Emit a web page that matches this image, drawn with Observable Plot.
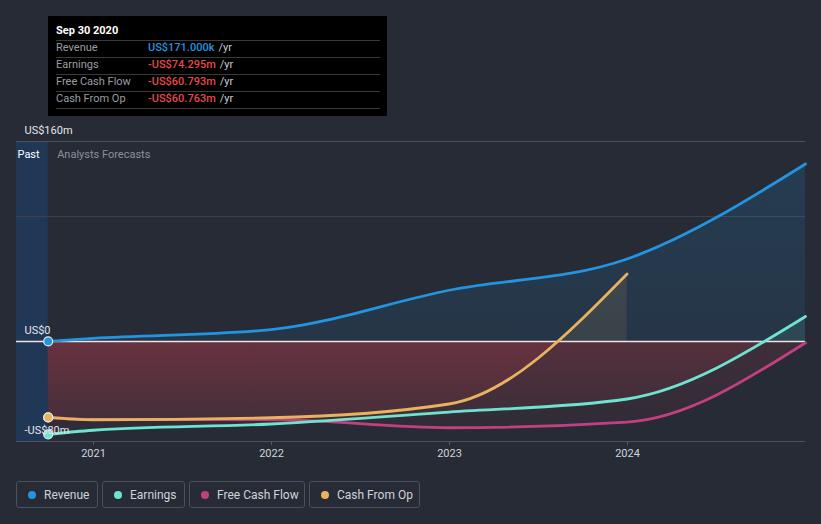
<!DOCTYPE html>
<html><head><meta charset="utf-8">
<script src="https://cdn.jsdelivr.net/npm/d3@7"></script>
<script src="https://cdn.jsdelivr.net/npm/@observablehq/plot@0.6"></script>
<style>
body{margin:0;background:#262b36;font-family:Roboto,"Noto Sans",sans-serif;}
#wrap{position:relative;width:821px;height:524px;background:#262b36;overflow:hidden;}
#chart{position:absolute;left:0;top:0;}
#tip{position:absolute;left:48px;top:16px;width:339px;height:100px;background:#000;}
#tip .inner{position:absolute;left:8px;top:0;width:324px;}
#tip .title{padding-top:6px;line-height:18px;height:18px;font-size:11px;font-weight:bold;color:#fff;border-bottom:1px solid #3a3a3a;}
#tip .row{line-height:14px;height:14px;padding-bottom:2px;font-size:11px;border-bottom:1px solid #3a3a3a;display:flex;}
#tip .lab{width:92px;color:#9a9da3;}
#tip .val{font-weight:500;}
#tip .unit{color:#c9ccd1;margin-left:4px;}
#legend{position:absolute;left:16px;top:481px;display:flex;gap:4px;}
#legend .item{box-sizing:border-box;height:27px;border:1px solid #4a505c;border-radius:3px;display:flex;align-items:center;padding-left:11px;font-size:12px;color:#cfd3da;}
#legend .dot{width:8px;height:8px;border-radius:50%;margin-right:8px;}
</style></head>
<body>
<div id="wrap">
  <div id="chart"></div>
  <div id="tip"><div class="inner"></div></div>
  <div id="legend"></div>
</div>
<script>
// ---- data ----
const seriesNames = ["Revenue", "Earnings", "Free Cash Flow", "Cash From Op"];
const seriesColors = ["#2394df", "#6ee3cf", "#c2407f", "#e9b25e"];
const dates = ["2020-09-30", "2020-12-31", "2021-12-31", "2022-12-31", "2023-12-31", "2024-12-31"];
const revenue = [0.171, 2.5, 9.5, 41, 66, 142];
const earnings = [-74.295, -71, -66, -56.5, -46, 20];
const freeCashFlow = [-60.793, -62.4, -62.5, -69, -64.5, -1];
const cashFromOp = [-60.763, -62.6, -61, -50, 54];
const tipTitle = "Sep 30 2020";
const tipValues = ["US$171.000k", "-US$74.295m", "-US$60.793m", "-US$60.763m"];
const yLabelValues = [160, 0, -80];
const yLabelTexts = ["US$160m", "US$0", "-US$80m"];
const gridValues = [160];
const minorGridValues = [100];
const yearTicks = ["2021-01-01", "2022-01-01", "2023-01-01", "2024-01-01"];
const xDomainStr = ["2020-07-27", "2024-12-31"];
const yDomain = [-80, 160];
const pastEndStr = "2020-09-30";

// ---- build ----
const parse = d3.utcParse("%Y-%m-%d");
const xDomain = xDomainStr.map(parse);
const pastEnd = parse(pastEndStr);
const valueLists = [revenue, earnings, freeCashFlow, cashFromOp];
const series = seriesNames.map((name, i) => ({
  name, color: seriesColors[i], id: "g" + i,
  data: valueLists[i].map((v, j) => ({date: parse(dates[j]), value: v}))
}));
const drawOrder = [0, 2, 1, 3];

const marks = [
  Plot.rect([{x1: xDomain[0], x2: pastEnd}], {x1: "x1", x2: "x2", y1: () => yDomain[0], y2: () => yDomain[1], fill: "#213756"}),
  Plot.ruleY(gridValues, {stroke: "#4b505b", strokeWidth: 1}),
  Plot.ruleY(minorGridValues, {stroke: "#3c414c", strokeWidth: 1}),
];
for (const s of series) {
  marks.push(Plot.areaY(s.data, {x: "date", y: "value", curve: "monotone-x", fill: `url(#${s.id})`}));
}
marks.push(Plot.ruleY([0], {stroke: "#efe3e5", strokeWidth: 1.3}));
marks.push(Plot.ruleY([yDomain[0]], {stroke: "#4b505b", strokeWidth: 1.2}));
for (const i of drawOrder) {
  const s = series[i];
  marks.push(Plot.line(s.data, {x: "date", y: "value", curve: "monotone-x", stroke: s.color, strokeWidth: 2.8}));
}
for (const i of [0, 2, 3, 1]) {
  const s = series[i];
  marks.push(Plot.dot([s.data[0]], {x: "date", y: "value", r: 4.5, fill: s.color, stroke: "#e6eaee", strokeWidth: 1.2}));
}
marks.push(Plot.text(yLabelValues, {x: () => xDomain[0], y: d => d, text: (d, i) => yLabelTexts[i], textAnchor: "start", lineAnchor: "bottom", dx: 8, dy: -8, fill: "#e4e6ea", fontSize: 11}));
marks.push(Plot.text(["Past"], {x: () => xDomain[0], y: () => yDomain[1], textAnchor: "start", lineAnchor: "bottom", dx: 1, dy: 16, fill: "#ffffff", fontSize: 11}));
marks.push(Plot.text(["Analysts Forecasts"], {x: () => pastEnd, y: () => yDomain[1], textAnchor: "start", lineAnchor: "bottom", dx: 9, dy: 16, fill: "#8c9099", fontSize: 11}));
marks.push(Plot.axisX(yearTicks.map(parse), {tickFormat: d3.utcFormat("%Y"), tickSize: 4, tickPadding: 4, color: "#cfd3da", stroke: "#555b66", fontSize: 11}));

const plot = Plot.plot({
  width: 821, height: 470,
  marginLeft: 16, marginRight: 16, marginTop: 141, marginBottom: 29,
  style: {background: "transparent", fontFamily: "Roboto, sans-serif", fontSize: "11px", color: "#cfd3da"},
  x: {type: "utc", domain: xDomain},
  y: {domain: yDomain, axis: null},
  marks
});

// gradients for the areas
const ys = plot.scale("y");
const yTop = ys.apply(yDomain[1]), yBot = ys.apply(yDomain[0]), yZero = ys.apply(0);
const z = (yZero - yTop) / (yBot - yTop);
const svg = d3.select(plot.tagName === "svg" ? plot : plot.querySelector("svg"));
const defs = svg.insert("defs", ":first-child");
for (const s of series) {
  const g = defs.append("linearGradient").attr("id", s.id).attr("gradientUnits", "userSpaceOnUse")
    .attr("x1", 0).attr("x2", 0).attr("y1", yTop).attr("y2", yBot);
  g.append("stop").attr("offset", 0).attr("stop-color", s.color).attr("stop-opacity", 0.17);
  g.append("stop").attr("offset", z).attr("stop-color", s.color).attr("stop-opacity", 0.1);
  g.append("stop").attr("offset", z).attr("stop-color", "#d9404f").attr("stop-opacity", 0.14);
  g.append("stop").attr("offset", 1).attr("stop-color", "#d9404f").attr("stop-opacity", 0.04);
}
document.getElementById("chart").appendChild(plot);

// tooltip
const inner = d3.select("#tip .inner");
inner.append("div").attr("class", "title").text(tipTitle);
seriesNames.forEach((n, i) => {
  const r = inner.append("div").attr("class", "row");
  r.append("div").attr("class", "lab").text(n);
  r.append("span").attr("class", "val").style("color", tipValues[i].startsWith("-") ? "#e5484d" : seriesColors[0]).text(tipValues[i]);
  r.append("span").attr("class", "unit").text("/yr");
});

// legend
const legendWidths = [82, 83, 116, 111];
const lg = d3.select("#legend");
seriesNames.forEach((n, i) => {
  const it = lg.append("div").attr("class", "item").style("width", legendWidths[i] + "px");
  it.append("span").attr("class", "dot").style("background", seriesColors[i]);
  it.append("span").text(n);
});
</script>
</body></html>
